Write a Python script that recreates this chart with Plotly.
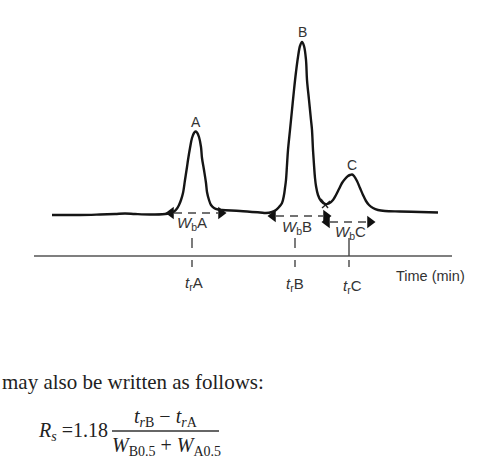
import plotly.graph_objects as go

# Chromatogram trace (time units, signal above the time axis)
time = [52, 80, 100, 115, 125, 135, 150, 165, 170, 174, 177, 179, 181, 183, 185, 187, 188, 190, 192, 194,
        195.5, 197, 199, 201, 202, 204, 206, 207, 209, 211, 214, 218, 222, 240, 260, 266, 272, 276, 279,
        282, 284, 285, 286, 287, 288, 290, 292, 294, 296, 298, 300, 302, 304, 306, 307, 309, 311, 312,
        313, 314, 315, 316, 318, 321, 325, 329, 333, 336, 339, 342, 345, 348, 350, 352, 354, 357, 360,
        363, 366, 369, 373, 378, 385, 400, 420, 438]
signal = [41, 41, 41.5, 42, 42.5, 42, 41.5, 42, 43, 44.5, 47.5, 51, 56, 63, 76, 89, 96, 108, 118, 123,
          124.5, 123.5, 119, 109, 98, 86, 73, 64, 56, 51, 48, 46.5, 46, 45, 43.5, 43, 44, 46, 49,
          53, 61, 68, 76, 91, 106, 126, 146, 166, 184, 199, 210, 214, 210, 196, 176, 156, 136, 126,
          106, 91, 78, 70, 61, 55, 52, 52.5, 56, 61, 67, 73, 77, 80, 81, 81.5, 80, 75, 68,
          61, 55, 51, 48, 46, 45, 44.5, 44, 43.5]

peaks = ["A", "B", "C"]
peak_time = [196, 302, 352]
peak_height = [124.5, 214, 81.5]
ret_time = [192, 295, 349]

# peak widths at base (start, end, level)
w_start = [166, 268, 322]
w_end = [226, 331, 375]
w_level = [43, 40, 34]

axis_start, axis_end = 34, 452

fig = go.Figure()

# time axis line
fig.add_trace(go.Scatter(x=[axis_start, axis_end], y=[0, 0], mode="lines",
                         line=dict(color="#555555", width=1.4), hoverinfo="skip"))

# width dashed lines + arrowheads
for s, e, lv in zip(w_start, w_end, w_level):
    fig.add_trace(go.Scatter(x=[s + 8, e - 8], y=[lv, lv], mode="lines",
                             line=dict(color="#444444", width=1.7, dash="8px,6px"), hoverinfo="skip"))
    fig.add_trace(go.Scatter(x=[s + 5], y=[lv], mode="markers",
                             marker=dict(symbol="triangle-left", size=11, color="#111111"), hoverinfo="skip"))
    fig.add_trace(go.Scatter(x=[e - 5], y=[lv], mode="markers",
                             marker=dict(symbol="triangle-right", size=11, color="#111111"), hoverinfo="skip"))

# tangent crossing marks in the B/C valley
fig.add_trace(go.Scatter(x=[321, 328, None, 322, 330], y=[57, 48, None, 48, 55], mode="lines",
                         line=dict(color="#222222", width=1.4), hoverinfo="skip"))

# retention time ticks
for i, rt in enumerate(ret_time):
    top = 0 if i == 2 else 8
    fig.add_trace(go.Scatter(x=[rt, rt, None, rt, rt], y=[18, top, None, -4, -11], mode="lines",
                             line=dict(color="#444444", width=1.4), hoverinfo="skip"))

# chromatogram
fig.add_trace(go.Scatter(x=time, y=signal, mode="lines", line=dict(color="#151515", width=2.4),
                         line_shape="spline", hoverinfo="skip"))

lab_font = dict(family="Liberation Sans, Arial", size=14, color="#333333")
for name, pt, ph in zip(peaks, peak_time, peak_height):
    fig.add_annotation(x=pt, y=ph + 10, text=name, showarrow=False, font=lab_font)

w_label_y = [33, 29, 24]
w_label_x = [192, 297, 350]
for name, wx, wy in zip(peaks, w_label_x, w_label_y):
    fig.add_annotation(x=wx, y=wy, text=f"<i>W</i><sub>b</sub>{name}", showarrow=False,
                       font=dict(family="Liberation Sans, Arial", size=15, color="#333333"))

t_label_y = [-27, -28, -30]
t_label_x = [194, 295, 352]
for name, tx, ty in zip(peaks, t_label_x, t_label_y):
    fig.add_annotation(x=tx, y=ty, text=f"<i>t</i><sub>r</sub>{name}", showarrow=False,
                       font=dict(family="Liberation Sans, Arial", size=15, color="#333333"))

fig.add_annotation(x=430, y=-20, text="Time (min)", showarrow=False,
                   font=dict(family="Liberation Sans, Arial", size=14.5, color="#333333"))

# text below the chart
serif = dict(family="Liberation Serif, Times New Roman", size=21, color="#222222")
fig.add_annotation(x=0, y=-126, xref="paper", text="may also be written as follows:", showarrow=False,
                   xanchor="left", font=serif)
fsz = dict(family="Liberation Serif, Times New Roman", size=20, color="#222222")
fig.add_annotation(x=110, y=-175, text="<i>R</i><sub><i>s</i></sub> =1.18", showarrow=False,
                   xanchor="right", font=fsz)
fig.add_annotation(x=166, y=-161, text="<i>t</i><sub><i>r</i>B</sub> − <i>t</i><sub><i>r</i>A</sub>",
                   showarrow=False, font=fsz)
fig.add_annotation(x=166, y=-190, text="<i>W</i><sub>B0.5</sub> + <i>W</i><sub>A0.5</sub>",
                   showarrow=False, font=fsz)
fig.add_shape(type="line", x0=112, x1=219, y0=-175, y1=-175, line=dict(color="#333333", width=1.3))

fig.update_layout(width=477, height=468, autosize=False, margin=dict(l=0, r=0, t=0, b=0),
                  showlegend=False, plot_bgcolor="white", paper_bgcolor="white",
                  xaxis=dict(range=[0, 477], visible=False, fixedrange=True),
                  yaxis=dict(range=[-212, 256], visible=False, fixedrange=True))

fig.write_html("out.html", config={"displayModeBar": False},
               post_script="document.body.style.margin='0';document.body.style.overflow='hidden';")
